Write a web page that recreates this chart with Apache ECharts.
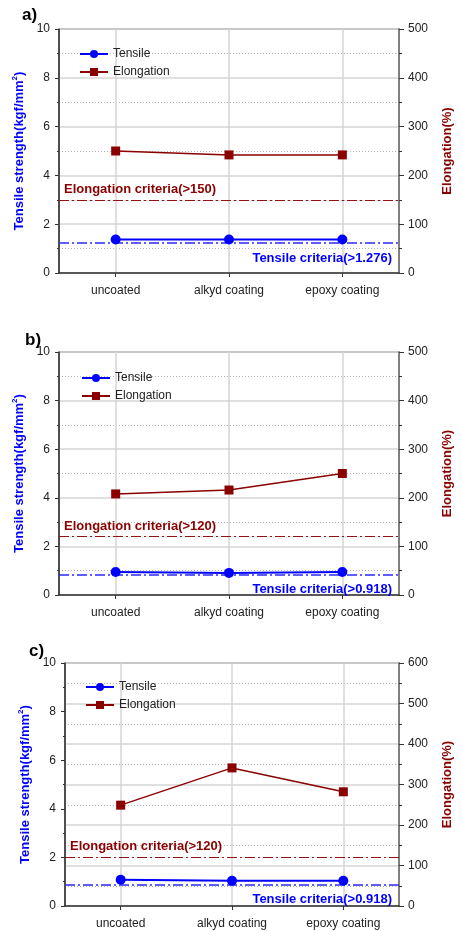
<!DOCTYPE html>
<html>
<head>
<meta charset="utf-8">
<script src="https://cdn.jsdelivr.net/npm/echarts@6/dist/echarts.min.js"></script>
<style>
html,body{margin:0;padding:0;background:#fff;}
#main{width:462px;height:931px;}
</style>
</head>
<body>
<div id="main"></div>
<script>
// ---- data ----
var categories = ['uncoated', 'alkyd coating', 'epoxy coating'];
var panelLabels = ['a)', 'b)', 'c)'];

var tensileA = [1.37, 1.37, 1.37];
var elongationA = [250, 242, 242];
var tensileCritA = 1.23;
var elongCritA = 150;
var tensileCritTextA = 'Tensile criteria(>1.276)';
var elongCritTextA = 'Elongation criteria(>150)';

var tensileB = [0.95, 0.91, 0.95];
var elongationB = [208, 216, 250];
var tensileCritB = 0.85;
var elongCritB = 120;
var tensileCritTextB = 'Tensile criteria(>0.918)';
var elongCritTextB = 'Elongation criteria(>120)';

var tensileC = [1.08, 1.04, 1.04];
var elongationC = [249, 341, 282];
var tensileCritC = 0.89;
var elongCritC = 120;
var tensileCritTextC = 'Tensile criteria(>0.918)';
var elongCritTextC = 'Elongation criteria(>120)';

var leftMax = [10, 10, 10];
var leftInterval = 2;
var rightMax = [500, 500, 600];
var rightInterval = 100;

// ---- styles ----
var FONT = '"Liberation Sans", Arial, sans-serif';
var BLUE = '#0000ff';
var RED = '#8b0000';
var CRIT_RED = '#9a1010';
var CRIT_BLUE = '#2a2aff';

var grids = [
  {left: 59, top: 29, width: 340, height: 244},
  {left: 59, top: 352, width: 340, height: 243},
  {left: 65, top: 663, width: 339, height: 243}
];
var legendPos = [
  {left: 79, top: 48},
  {left: 81, top: 372},
  {left: 85, top: 681}
];
var labelPos = [
  {x: 22, y: 16},
  {x: 25, y: 341},
  {x: 29, y: 652}
];

var panels = [
  {t: tensileA, e: elongationA, tc: tensileCritA, ec: elongCritA, tct: tensileCritTextA, ect: elongCritTextA},
  {t: tensileB, e: elongationB, tc: tensileCritB, ec: elongCritB, tct: tensileCritTextB, ect: elongCritTextB},
  {t: tensileC, e: elongationC, tc: tensileCritC, ec: elongCritC, tct: tensileCritTextC, ect: elongCritTextC}
];

var option = {
  backgroundColor: '#fff',
  animation: false,
  textStyle: {fontFamily: FONT},
  grid: [], xAxis: [], yAxis: [], series: [], legend: [], graphic: []
};

panels.forEach(function (p, i) {
  option.grid.push(Object.assign({
    show: true, borderColor: '#404040', borderWidth: 1, backgroundColor: 'transparent'
  }, grids[i]));

  option.xAxis.push({
    type: 'category', gridIndex: i, data: categories, boundaryGap: true,
    axisLine: {lineStyle: {color: '#333', width: 1.5}},
    axisTick: {show: true, alignWithLabel: true, length: 4, lineStyle: {color: '#333'}},
    axisLabel: {color: '#222', fontSize: 12, fontFamily: FONT, margin: 12},
    splitLine: {show: true, alignWithLabel: true, lineStyle: {color: '#d4d4d4', width: 1.5}}
  });

  option.yAxis.push({
    type: 'value', gridIndex: i, position: 'left', min: 0, max: leftMax[i], interval: leftInterval,
    name: '{a|Tensile strength(kgf/mm}{s|2}{a|)}',
    nameLocation: 'middle', nameGap: 32, nameRotate: 90,
    nameTextStyle: {
      rich: {
        a: {fontSize: 13, fontWeight: 'bold', color: BLUE, fontFamily: FONT},
        s: {fontSize: 8, fontWeight: 'bold', color: BLUE, fontFamily: FONT, verticalAlign: 'top', padding: [0, 0, 8, 0]}
      }
    },
    axisLine: {show: true, lineStyle: {color: '#333', width: 1.5}},
    axisTick: {show: true, length: 4, lineStyle: {color: '#333'}},
    minorTick: {show: true, splitNumber: 2, length: 2, lineStyle: {color: '#333'}},
    axisLabel: {color: '#222', fontSize: 12, fontFamily: FONT, margin: 9},
    splitLine: {show: false}
  });

  option.yAxis.push({
    type: 'value', gridIndex: i, position: 'right', min: 0, max: rightMax[i], interval: rightInterval,
    name: 'Elongation(%)',
    nameLocation: 'middle', nameGap: 42, nameRotate: 90,
    nameTextStyle: {fontSize: 13, fontWeight: 'bold', color: RED, fontFamily: FONT},
    axisLine: {show: true, lineStyle: {color: '#808080', width: 2}},
    axisTick: {show: true, length: 5, lineStyle: {color: '#333'}},
    minorTick: {show: true, splitNumber: 2, length: 3, lineStyle: {color: '#333'}},
    axisLabel: {color: '#222', fontSize: 12, fontFamily: FONT, margin: 9},
    splitLine: {show: true, lineStyle: {color: '#d6d6d6', width: 1.5}},
    minorSplitLine: {show: true, lineStyle: {color: '#b5b5b5', width: 1, type: [1, 2]}}
  });

  option.series.push({
    name: 'Tensile', type: 'line', xAxisIndex: i, yAxisIndex: 2 * i,
    data: p.t, symbol: 'circle', symbolSize: 10,
    itemStyle: {color: BLUE}, lineStyle: {color: BLUE, width: 2}, z: 5,
    markLine: {
      silent: true, symbol: ['none', 'none'],
      lineStyle: {color: CRIT_BLUE, width: 1.5, type: [10, 3, 2, 3]},
      label: {show: true, position: 'insideEndBottom', distance: [7, 9], formatter: p.tct,
        color: BLUE, fontSize: 13, fontWeight: 'bold', fontFamily: FONT},
      data: [{yAxis: p.tc}]
    }
  });

  option.series.push({
    name: 'Elongation', type: 'line', xAxisIndex: i, yAxisIndex: 2 * i + 1,
    data: p.e, symbol: 'rect', symbolSize: 9,
    itemStyle: {color: RED}, lineStyle: {color: RED, width: 1.5}, z: 4,
    markLine: {
      silent: true, symbol: ['none', 'none'],
      lineStyle: {color: CRIT_RED, width: 1.2, type: [10, 3, 2, 3]},
      label: {show: true, position: 'insideStartTop', distance: [5, 4], formatter: p.ect,
        color: RED, fontSize: 13, fontWeight: 'bold', fontFamily: FONT},
      data: [{yAxis: p.ec}]
    }
  });

  option.legend.push({
    orient: 'vertical', left: legendPos[i].left, top: legendPos[i].top, padding: 0,
    data: ['Tensile', 'Elongation'], itemWidth: 28, itemHeight: 10, itemGap: 6,
    textStyle: {fontSize: 12, color: '#222', fontFamily: FONT}
  });

  option.graphic.push({
    type: 'text', left: labelPos[i].x, top: labelPos[i].y - 9,
    style: {text: panelLabels[i], fontSize: 17, fontWeight: 'bold', fill: '#000', fontFamily: FONT}
  });
});

var chart = echarts.init(document.getElementById('main'), null, {renderer: 'canvas'});
chart.setOption(option);
</script>
</body>
</html>
